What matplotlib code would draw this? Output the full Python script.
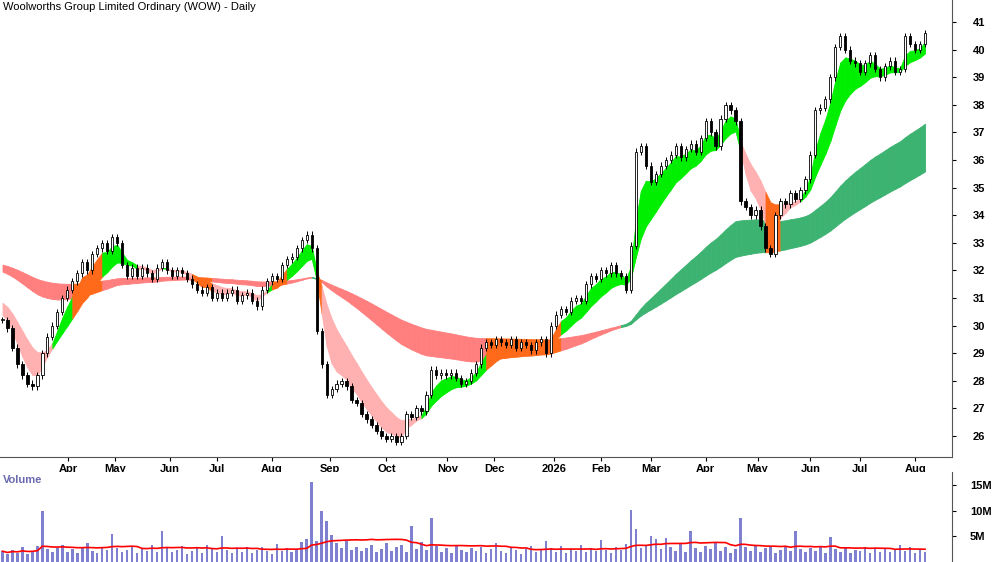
import numpy as np
import pandas as pd
import matplotlib.pyplot as plt

plt.rcParams['font.family'] = ['Liberation Sans', 'DejaVu Sans']

# closes sampled every ~2 trading days
closes = [30.2, 29.9, 29.2, 28.6, 28.2, 27.9, 27.8, 28.2, 29.0, 29.6, 30.0, 30.5, 31.0, 31.3, 31.6, 31.9,
          32.3, 32.0, 32.6, 32.8, 33.0, 32.7, 33.2, 33.0, 32.2, 31.8, 32.1, 31.8, 32.1, 31.9, 31.7, 32.1,
          32.3, 32.0, 31.8, 32.0, 31.9, 31.7, 31.5, 31.3, 31.2, 31.4, 31.0, 31.2, 31.0, 31.2, 31.3, 30.9,
          31.1, 31.2, 30.9, 30.7, 31.3, 31.6, 31.8, 31.7, 32.2, 32.4, 32.5, 32.8, 33.1, 33.3, 32.8, 29.8,
          28.6, 27.5, 27.7, 27.9, 28.0, 27.8, 27.3, 27.2, 26.8, 26.6, 26.4, 26.2, 26.0, 25.9, 26.0, 25.8,
          26.0, 26.8, 26.7, 27.0, 26.9, 27.5, 28.4, 28.2, 28.3, 28.2, 28.3, 28.1, 27.9, 28.0, 28.3, 28.6,
          29.2, 29.4, 29.3, 29.5, 29.4, 29.3, 29.5, 29.2, 29.4, 29.3, 29.1, 29.4, 29.5, 29.0, 30.0, 30.4,
          30.6, 30.5, 30.9, 31.0, 30.9, 31.5, 31.8, 31.7, 32.0, 31.9, 32.2, 31.9, 31.8, 31.3, 32.9, 36.3,
          36.5, 35.8, 35.2, 35.5, 35.8, 36.0, 36.2, 36.5, 36.1, 36.4, 36.6, 36.3, 36.8, 37.4, 37.0, 36.5,
          37.5, 38.0, 37.8, 37.4, 34.5, 34.3, 34.0, 34.2, 33.6, 32.8, 32.6, 34.0, 34.5, 34.4, 34.8, 34.6,
          34.9, 35.3, 36.2, 37.8, 37.9, 38.2, 39.0, 40.1, 40.5, 40.0, 39.6, 39.5, 39.2, 39.5, 39.8, 39.3,
          39.0, 39.4, 39.6, 39.2, 39.3, 40.5, 40.2, 40.0, 40.2, 40.6]
prior_closes = [32.6, 32.8, 33.0, 33.2, 33.1, 33.0, 32.9, 32.8, 32.6, 32.5, 32.3, 32.1, 32.0, 31.8,
                31.6, 31.4, 31.2, 31.0, 30.9, 30.7, 30.6, 30.5, 30.4, 30.4]

# volume in millions
volumes = [2.1, 1.6, 2.4, 1.8, 2.9, 1.5, 2.2, 3.1, 10.0, 2.6, 1.9, 2.8, 3.4, 2.0, 2.5, 1.7,
           2.9, 3.6, 2.2, 1.8, 3.0, 2.4, 5.5, 2.7, 1.9, 2.3, 3.2, 1.7, 2.6, 2.1, 3.4, 2.0,
           6.0, 2.8, 1.9, 2.4, 3.1, 1.6, 2.2, 2.7, 1.8, 3.3, 2.5, 1.9, 5.0, 2.3, 1.7, 2.6,
           2.0, 3.0, 1.8, 2.4, 2.9, 2.1, 1.6, 3.5, 2.2, 2.8, 1.9, 2.5, 3.8, 4.5, 15.5, 4.0,
           10.0, 8.0, 5.2, 3.6, 2.8, 4.1, 2.4, 3.0, 2.1, 2.7, 3.3, 1.9, 2.5, 3.6, 2.2, 2.9,
           3.4, 2.0, 7.0, 2.6, 3.9, 2.3, 8.5, 3.2, 2.0, 2.7, 1.8, 3.1, 2.4, 1.9, 2.8, 2.2,
           3.0, 1.7, 2.5, 3.6, 2.1, 1.8, 2.9, 2.3, 1.6, 2.6, 3.2, 1.9, 2.4, 4.0, 2.7, 2.0,
           3.1, 1.8, 2.5, 2.2, 3.4, 1.9, 2.7, 2.1, 4.2, 2.3, 1.8, 3.0, 2.4, 3.5, 10.2, 6.5,
           2.8, 3.3, 5.0, 4.5, 2.6, 4.6, 3.0, 2.2, 3.6, 2.0, 6.0, 2.7, 1.9, 3.1, 2.5, 3.8,
           2.2, 3.0, 1.8, 2.6, 8.5, 2.9, 2.1, 3.2, 2.0, 2.7, 3.0, 1.8, 2.4, 3.1, 2.2, 6.0,
           2.5, 1.9, 2.8, 2.2, 3.2, 1.8, 4.8, 2.6, 2.0, 2.9, 1.7, 2.4, 2.1, 3.0, 1.8, 2.5,
           2.0, 2.8, 1.9, 2.6, 3.3, 2.2, 2.9, 1.8, 2.4, 2.0]

month_labels = ['Apr', 'May', 'Jun', 'Jul', 'Aug', 'Sep', 'Oct', 'Nov', 'Dec', '2026',
                'Feb', 'Mar', 'Apr', 'May', 'Jun', 'Jul', 'Aug']
month_pos = [13.2, 22.6, 33.6, 43.0, 54.0, 65.6, 77.0, 89.2, 98.6, 110.6,
             120.0, 130.0, 141.0, 151.4, 162.0, 172.0, 183.0]

short_spans = [4, 5, 6, 7, 9, 11]
long_spans = [52, 60, 68, 76, 84, 92]

full = pd.Series(prior_closes + closes)
n_prior = len(prior_closes)
short = np.array([full.ewm(span=s, adjust=False).mean().values[n_prior:] for s in short_spans])
long_ = np.array([full.ewm(span=s, adjust=False).mean().values[n_prior:] for s in long_spans])
s_lo, s_hi = short.min(0), short.max(0)
l_lo, l_hi = long_.min(0), long_.max(0)

c = np.array(closes)
o = np.concatenate([[c[0]], c[:-1]])
x = np.arange(len(c))

fig = plt.figure(figsize=(10, 5.62), dpi=100)
ax = fig.add_axes([0, 1 - 457 / 562, 0.952, 457 / 562])
axv = fig.add_axes([0, 0, 0.952, 90 / 562])

overlap = (s_lo < l_hi) & (s_hi > l_lo)
for i in range(len(c) - 1):
    xs = [i, i + 1]
    if overlap[i]:
        lcol = '#ff6a1a'
    elif long_[0][i] > long_[-1][i]:
        lcol = '#3cb371'
    else:
        lcol = '#ff7f7f'
    ax.fill_between(xs, l_lo[i:i + 2], l_hi[i:i + 2], color=lcol, lw=0.6, zorder=1)
    if overlap[i]:
        scol = '#ff6a1a'
    elif short[0][i] > short[-1][i]:
        scol = '#00ee00'
    else:
        scol = '#ffb0b0'
    ax.fill_between(xs, s_lo[i:i + 2], s_hi[i:i + 2], color=scol, lw=0.6, zorder=2)

for i in range(len(c)):
    top, bot = max(o[i], c[i]), min(o[i], c[i])
    ax.vlines(x[i], bot - 0.12, top + 0.12, color='black', lw=0.7, zorder=3)
    face = 'white' if c[i] >= o[i] else 'black'
    ax.bar(x[i], max(top - bot, 0.05), bottom=bot, width=0.45, color=face,
           edgecolor='black', lw=0.6, zorder=4)

ax.set_xlim(-0.5, 190.4)
ax.set_ylim(25.24, 41.8)
ax.yaxis.tick_right()
ax.set_yticks(range(26, 42))
ax.set_xticks(month_pos)
ax.set_xticklabels(month_labels)
ax.tick_params(axis='x', length=3, labelsize=8, pad=2)
ax.tick_params(axis='y', length=3, labelsize=8, pad=12)
for t in ax.get_xticklabels() + ax.get_yticklabels():
    t.set_fontweight('bold')
for side in ['top', 'left']:
    ax.spines[side].set_visible(False)
ax.spines['right'].set_color('#555555')
ax.spines['bottom'].set_color('#555555')
ax.text(0.003, 0.995, 'Woolworths Group Limited Ordinary (WOW) - Daily', transform=ax.transAxes,
        ha='left', va='top', fontsize=8)

vol = np.array(volumes)
axv.bar(x, vol, width=0.5, color='#8080d0', zorder=2)
avg = pd.Series(vol).rolling(20, min_periods=1).mean()
axv.plot(x, avg, color='red', lw=1.2, zorder=3)
axv.set_xlim(-0.5, 190.4)
axv.set_ylim(0, 17.5)
axv.yaxis.tick_right()
axv.set_yticks([5, 10, 15])
axv.set_yticklabels(['5M', '10M', '15M'])
axv.tick_params(axis='y', length=3, labelsize=8, pad=10)
for t in axv.get_yticklabels():
    t.set_fontweight('bold')
axv.set_xticks([])
for side in ['top', 'left', 'bottom']:
    axv.spines[side].set_visible(False)
axv.spines['right'].set_color('#555555')
axv.text(0.003, 0.97, 'Volume', transform=axv.transAxes, ha='left', va='top',
         fontsize=8, color='#6a6ab0', fontweight='bold')

fig.savefig('out.png', dpi=100)
